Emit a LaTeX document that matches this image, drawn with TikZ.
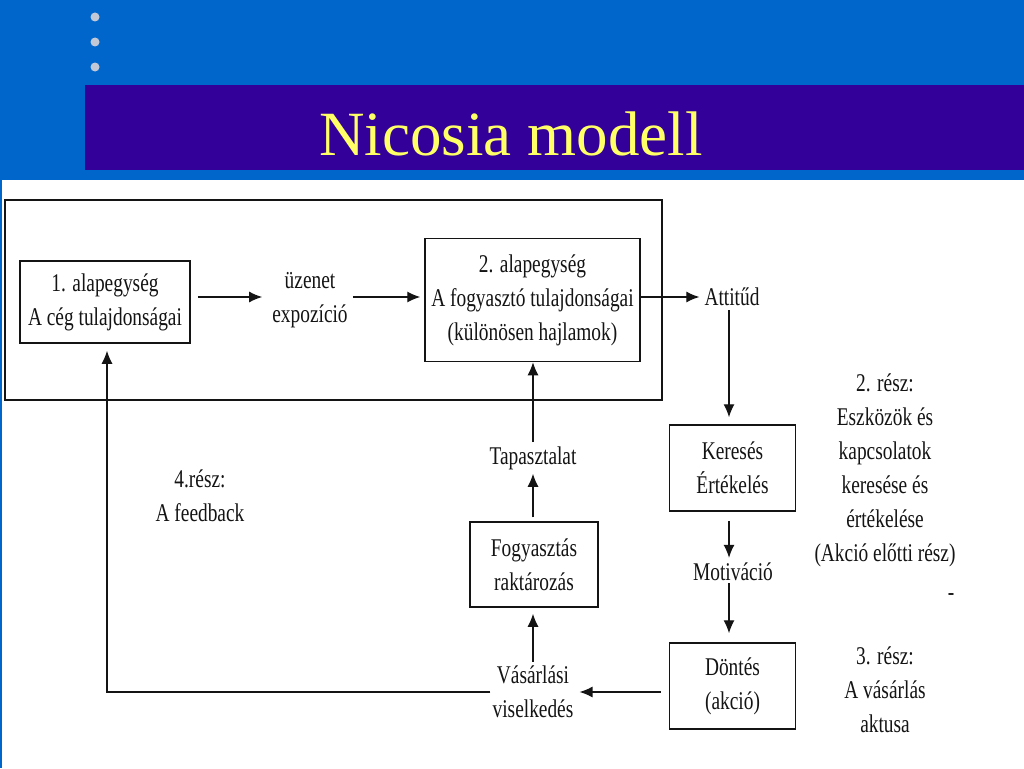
\documentclass[tikz,border=0pt]{standalone}
\usepackage{fontspec}
\setmainfont{Liberation Serif}
\newfontfamily\condfont[FakeStretch=0.76]{Liberation Serif}
\usetikzlibrary{arrows.meta}
\definecolor{slideblue}{RGB}{0,102,204}
\definecolor{titlepurple}{RGB}{51,0,153}
\definecolor{titleyellow}{RGB}{255,255,102}
\definecolor{dotgray}{RGB}{195,200,215}
\definecolor{ink}{RGB}{20,20,20}
\begin{document}
\begin{tikzpicture}[x=1pt,y=-1pt,
  every node/.style={font=\condfont\fontsize{25.5}{34}\selectfont, align=center, inner sep=2pt, text=ink},
  box/.style={draw=ink, line width=1.5pt, inner sep=0pt},
  arr/.style={draw=ink, -{Latex[length=13pt,width=11pt]}, line width=1.2pt},
  ln/.style={draw=ink, line width=1.2pt}]
\useasboundingbox (0,0) rectangle (1024,768);
\fill[slideblue] (0,0) rectangle (1024,768);
\fill[white] (2,180) rectangle (1024,768);
\fill[titlepurple] (85,85) rectangle (1024,170);
\foreach \y in {17,42,67} \fill[dotgray] (95,\y) circle (4.5);
\node[font=\fontsize{63}{70}\selectfont, text=titleyellow] (title) at (511,134) {Nicosia modell};

% outer frame
\node[box, minimum width=657, minimum height=200] (outer) at (333.5,300) {};

% boxes
\node[box, minimum width=170, minimum height=82] (b1) at (105,302) {1. alapegység\\A cég tulajdonságai};
\node[box, minimum width=215, minimum height=123] (b2) at (532.5,300) {2. alapegység\\A fogyasztó tulajdonságai\\(különösen hajlamok)};
\node[box, minimum width=126, minimum height=86] (ker) at (732.5,468) {Keresés\\Értékelés};
\node[box, minimum width=126, minimum height=86] (dont) at (732.5,686) {Döntés\\(akció)};
\node[box, minimum width=128, minimum height=85] (fog) at (534,564.5) {Fogyasztás\\raktározás};

% labels
\node (uz) at (310,300) {üzenet\\expozíció};
\node (att) at (732,297) {Attitűd};
\node (mot) at (733,572) {Motiváció};
\node (vas) at (533,692) {Vásárlási\\viselkedés};
\node (tap) at (533,458) {Tapasztalat};
\node (fb) at (200,496) {4.rész:\\A feedback};
\node (r2) at (885,470) {2. rész:\\Eszközök és\\kapcsolatok\\keresése és\\értékelése\\(Akció előtti rész)};
\node (dash) at (951,597) {-};
\node (r3) at (885,690) {3. rész:\\A vásárlás\\aktusa};

% connectors
\coordinate (fbc) at (107,692);
\draw[arr, shorten <=7pt, shorten >=8pt] ([yshift=5pt]b1.east) -- ([yshift=5pt]b1.east -| uz.west);
\draw[arr, shorten <=3pt, shorten >=4pt] ([yshift=5pt]b1.east -| uz.east) -- ([yshift=5pt]b1.east -| b2.west);
\draw[arr, shorten >=3pt] ([yshift=3pt]b2.east) -- ([yshift=3pt]b2.east -| att.west);
\draw[arr, shorten <=2pt, shorten >=7pt] (att.south -| 729,0) -- (ker.north -| 729,0);
\draw[arr, shorten <=9pt, shorten >=3pt] (ker.south -| 729,0) -- (mot.north -| 729,0);
\draw[arr, shorten >=9pt] (mot.south -| 729,0) -- (dont.north -| 729,0);
\draw[arr, shorten <=8pt, shorten >=4pt] (dont.west |- vas.east) -- (vas.east);
\draw[arr, shorten <=2pt, shorten >=6pt] (vas.north) -- (fog.south -| vas.north);
\draw[arr, shorten <=4pt, shorten >=2pt] (fog.north -| tap.south) -- (tap.south);
\draw[arr, shorten <=2pt] (tap.north) -- (b2.south -| tap.north);
\draw[arr, shorten >=7pt] (vas.west) -- (fbc) -- (fbc |- b1.south);
\end{tikzpicture}
\end{document}
